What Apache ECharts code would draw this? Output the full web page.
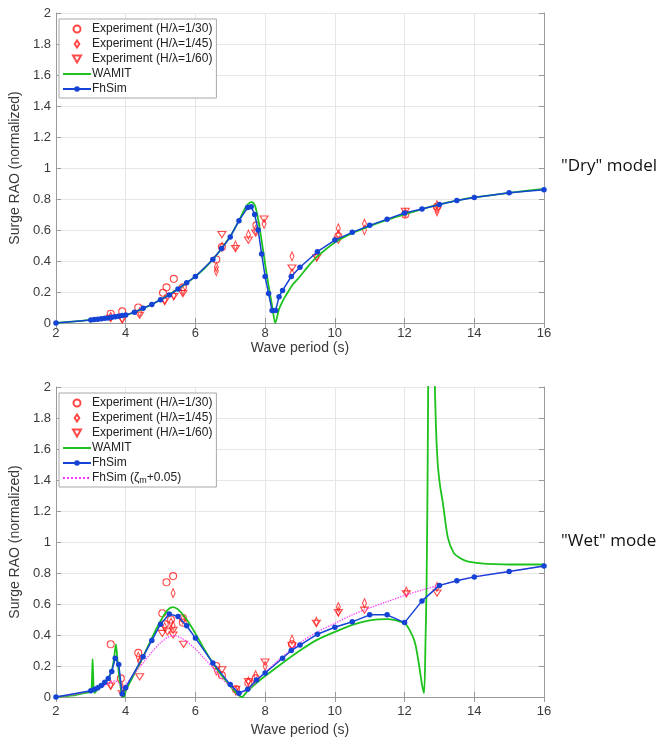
<!DOCTYPE html>
<html>
<head>
<meta charset="utf-8">
<script src="https://cdn.jsdelivr.net/npm/echarts@6/dist/echarts.min.js"></script>
<style>
html,body{margin:0;padding:0;background:#fff;}
#c{width:668px;height:742px;}
</style>
</head>
<body>
<div id="c"></div>
<script>
// ---------- Axis ticks ----------
const xTicks = [2, 4, 6, 8, 10, 12, 14, 16];
const yTicks = [0, 0.2, 0.4, 0.6, 0.8, 1, 1.2, 1.4, 1.6, 1.8, 2];

// ---------- Legend names ----------
const nameH30 = 'Experiment (H/λ=1/30)';
const nameH45 = 'Experiment (H/λ=1/45)';
const nameH60 = 'Experiment (H/λ=1/60)';
const nameWamit = 'WAMIT';
const nameFhSim = 'FhSim';
const nameFhSimZ = 'FhSim (ζm+0.05)';

// ---------- "Dry" model (top) ----------
const dryFhSimX = [2, 3.0, 3.1, 3.2, 3.3, 3.4, 3.5, 3.6, 3.7, 3.8, 3.9, 4.0, 4.25, 4.5, 4.75, 5.0, 5.25, 5.5, 5.75, 6.0, 6.5, 6.75, 7.0, 7.25, 7.5, 7.6, 7.7, 7.8, 7.9, 8.0, 8.1, 8.2, 8.3, 8.4, 8.5, 8.75, 9.0, 9.5, 10, 10.5, 11, 11.5, 12, 12.5, 13, 13.5, 14, 15, 16];
const dryFhSimY = [0, 0.02, 0.022, 0.024, 0.027, 0.03, 0.033, 0.037, 0.04, 0.044, 0.048, 0.052, 0.07, 0.095, 0.12, 0.15, 0.18, 0.22, 0.26, 0.30, 0.41, 0.48, 0.555, 0.66, 0.745, 0.75, 0.70, 0.60, 0.445, 0.30, 0.19, 0.08, 0.08, 0.17, 0.21, 0.30, 0.36, 0.46, 0.535, 0.585, 0.63, 0.67, 0.71, 0.735, 0.765, 0.79, 0.81, 0.84, 0.86];

const dryWamitX = [2, 3, 4, 5, 6, 6.5, 7.0, 7.25, 7.4, 7.5, 7.6, 7.66, 7.72, 7.8, 7.9, 8.0, 8.1, 8.2, 8.29, 8.4, 8.5, 8.6, 8.8, 9.0, 9.25, 9.5, 10, 10.5, 11, 11.5, 12, 12.5, 13, 13.5, 14, 15, 16];
const dryWamitY = [0, 0.02, 0.05, 0.15, 0.30, 0.41, 0.56, 0.66, 0.73, 0.765, 0.78, 0.775, 0.75, 0.67, 0.53, 0.38, 0.24, 0.11, 0.0, 0.09, 0.14, 0.18, 0.25, 0.30, 0.37, 0.43, 0.52, 0.58, 0.625, 0.665, 0.70, 0.735, 0.765, 0.79, 0.81, 0.84, 0.865];

const dryH30X = [3.57, 3.9, 4.36, 5.07, 5.17, 5.38, 5.64, 6.6, 6.76, 7.75, 10.1, 12.02, 12.93];
const dryH30Y = [0.06, 0.075, 0.10, 0.195, 0.23, 0.285, 0.23, 0.41, 0.49, 0.63, 0.56, 0.70, 0.75];
const dryH45X = [3.57, 3.9, 4.4, 5.12, 5.38, 5.64, 6.6, 6.6, 6.76, 7.15, 7.52, 7.73, 7.97, 8.77, 8.77, 9.48, 10.1, 10.1, 10.85, 10.85, 12.02, 12.93, 12.93];
const dryH45Y = [0.04, 0.03, 0.07, 0.15, 0.18, 0.21, 0.36, 0.335, 0.49, 0.50, 0.57, 0.60, 0.64, 0.43, 0.32, 0.43, 0.61, 0.57, 0.64, 0.60, 0.71, 0.76, 0.72];
const dryH60X = [3.57, 3.9, 4.4, 5.12, 5.38, 5.64, 6.76, 7.15, 7.52, 7.73, 7.97, 8.77, 9.48, 10.1, 12.02, 12.93];
const dryH60Y = [0.03, 0.02, 0.05, 0.14, 0.17, 0.19, 0.57, 0.48, 0.535, 0.58, 0.67, 0.355, 0.42, 0.535, 0.72, 0.73];

// ---------- "Wet" model (bottom) ----------
const wetFhSimX = [2, 3.0, 3.1, 3.2, 3.3, 3.4, 3.5, 3.6, 3.7, 3.8, 3.9, 4.0, 4.5, 4.75, 5.0, 5.25, 5.5, 5.75, 6.0, 6.5, 7.0, 7.25, 7.5, 7.75, 8.0, 8.5, 8.75, 9.0, 9.5, 10, 10.5, 11, 11.5, 12, 12.5, 13, 13.5, 14, 15, 16];
const wetFhSimY = [0, 0.04, 0.05, 0.06, 0.075, 0.095, 0.12, 0.165, 0.25, 0.21, 0.02, 0.06, 0.26, 0.365, 0.47, 0.535, 0.52, 0.46, 0.38, 0.22, 0.08, 0.025, 0.05, 0.11, 0.155, 0.25, 0.30, 0.335, 0.405, 0.45, 0.485, 0.53, 0.53, 0.48, 0.62, 0.72, 0.75, 0.775, 0.81, 0.845];

const wetWamitX = [2, 2.5, 2.8, 3.0, 3.03, 3.05, 3.07, 3.1, 3.2, 3.4, 3.5, 3.6, 3.66, 3.72, 3.76, 3.82, 3.9, 3.95, 4.0, 4.25, 4.5, 4.75, 5.0, 5.2, 5.35, 5.5, 5.75, 6.0, 6.25, 6.5, 6.75, 7.0, 7.2, 7.33, 7.5, 7.75, 8.0, 8.5, 9.0, 9.5, 10, 10.5, 11, 11.5, 12, 12.15, 12.3, 12.42, 12.5, 12.56, 12.6, 12.63, 12.66, 12.69, 12.75, 12.82, 12.86, 12.9, 12.95, 13.02, 13.1, 13.24, 13.41, 13.6, 13.8, 14.2, 14.6, 15, 16];
const wetWamitY = [0, 0.01, 0.025, 0.035, 0.10, 0.245, 0.12, 0.025, 0.05, 0.09, 0.12, 0.17, 0.24, 0.34, 0.25, 0.12, 0.01, 0.0, 0.04, 0.15, 0.26, 0.38, 0.49, 0.56, 0.58, 0.565, 0.50, 0.41, 0.31, 0.22, 0.14, 0.07, 0.02, 0.0, 0.04, 0.09, 0.135, 0.22, 0.30, 0.37, 0.42, 0.465, 0.495, 0.503, 0.475, 0.43, 0.35, 0.2, 0.08, 0.025, 0.35, 0.7, 1.4, 2.4, 3.5, 3.0, 2.1, 1.75, 1.51, 1.36, 1.25, 1.03, 0.93, 0.895, 0.875, 0.862, 0.857, 0.855, 0.855];

const wetFhSimZX = [2, 2.5, 3, 3.25, 3.5, 3.7, 3.8, 3.9, 4.0, 4.25, 4.5, 4.75, 5.0, 5.25, 5.4, 5.6, 5.8, 6.0, 6.25, 6.5, 6.75, 7.0, 7.2, 7.3, 7.5, 7.75, 8.0, 8.5, 9.0, 9.5, 10, 10.5, 11, 11.5, 12, 12.5, 13, 13.5, 14, 15, 16];
const wetFhSimZY = [0, 0.015, 0.04, 0.06, 0.085, 0.105, 0.09, 0.06, 0.08, 0.15, 0.22, 0.29, 0.35, 0.39, 0.395, 0.38, 0.35, 0.31, 0.25, 0.19, 0.12, 0.07, 0.035, 0.03, 0.05, 0.10, 0.16, 0.26, 0.35, 0.42, 0.475, 0.53, 0.575, 0.615, 0.655, 0.69, 0.72, 0.75, 0.775, 0.81, 0.845];

const wetH30X = [3.57, 3.86, 4.36, 5.05, 5.17, 5.36, 5.12, 5.3, 5.64, 5.64, 6.6, 6.76, 7.16, 7.52, 7.73, 8.77];
const wetH30Y = [0.34, 0.12, 0.285, 0.54, 0.74, 0.78, 0.47, 0.50, 0.51, 0.48, 0.20, 0.14, 0.05, 0.09, 0.12, 0.34];
const wetH45X = [3.57, 3.9, 3.9, 4.36, 4.4, 5.36, 5.12, 5.3, 5.36, 5.64, 6.6, 7.16, 7.52, 7.73, 8.0, 8.77, 9.47, 10.1, 10.1, 10.85, 12.05, 12.93];
const wetH45Y = [0.08, 0.06, 0.04, 0.26, 0.23, 0.67, 0.45, 0.48, 0.46, 0.50, 0.17, 0.04, 0.10, 0.14, 0.20, 0.37, 0.485, 0.58, 0.55, 0.605, 0.68, 0.71];
const wetH60X = [3.57, 3.9, 4.4, 5.05, 5.2, 5.36, 5.36, 5.66, 6.76, 7.16, 7.52, 8.0, 8.77, 9.47, 10.1, 10.85, 12.05, 12.93];
const wetH60Y = [0.07, 0.02, 0.13, 0.41, 0.42, 0.40, 0.43, 0.34, 0.175, 0.05, 0.10, 0.225, 0.33, 0.475, 0.545, 0.56, 0.665, 0.67];

// ---------- helpers ----------
function zip(xs, ys) { return xs.map((x, i) => [x, ys[i]]); }

const RED = '#ff1a1a', GREEN = '#1ec21e', BLUE = '#1443d6', MAG = '#ff33ff';
const AXIS = '#9a9a9a', GRIDC = '#e6e6e6', LABEL = '#3a3a3a';
const FONT = 'Liberation Sans, Arial, sans-serif';
const SYM_DIAMOND = 'path://M3,0 L6,4.5 L3,9 L0,4.5 Z';
const SYM_TRIDOWN = 'path://M0,0 L8,0 L4,7 Z';

function xAxes(gi) {
  return [{
    type: 'value', gridIndex: gi, min: 2, max: 16, interval: 2, position: 'bottom',
    name: 'Wave period (s)', nameLocation: 'middle', nameGap: gi === 0 ? 18 : 26,
    nameTextStyle: { fontSize: 14, color: LABEL, fontFamily: FONT },
    axisLine: { show: true, lineStyle: { color: AXIS, width: 1 } },
    axisTick: { show: true, inside: true, length: 5, lineStyle: { color: AXIS } },
    axisLabel: { fontSize: 13, color: LABEL, fontFamily: FONT, margin: gi === 0 ? 4 : 8 },
    splitLine: { show: true, lineStyle: { color: GRIDC, width: 1 } }
  }, {
    type: 'value', gridIndex: gi, min: 2, max: 16, interval: 2, position: 'top',
    axisLine: { show: true, lineStyle: { color: AXIS, width: 1 } },
    axisTick: { show: true, inside: true, length: 5, lineStyle: { color: AXIS } },
    axisLabel: { show: false }, splitLine: { show: false }
  }];
}
function yAxes(gi) {
  return [{
    type: 'value', gridIndex: gi, min: 0, max: 2, interval: 0.2, position: 'left',
    name: 'Surge RAO (normalized)', nameLocation: 'middle', nameGap: 27, nameRotate: 90,
    nameTextStyle: { fontSize: 14, color: LABEL, fontFamily: FONT },
    axisLine: { show: true, lineStyle: { color: AXIS, width: 1 } },
    axisTick: { show: true, inside: true, length: 5, lineStyle: { color: AXIS } },
    axisLabel: { fontSize: 13, color: LABEL, fontFamily: FONT, margin: 5 },
    splitLine: { show: true, lineStyle: { color: GRIDC, width: 1 } }
  }, {
    type: 'value', gridIndex: gi, min: 0, max: 2, interval: 0.2, position: 'right',
    axisLine: { show: true, lineStyle: { color: AXIS, width: 1 } },
    axisTick: { show: true, inside: true, length: 5, lineStyle: { color: AXIS } },
    axisLabel: { show: false }, splitLine: { show: false }
  }];
}

function expSeries(name, xi, yi, xs, ys, symbol, size) {
  return {
    name: name, type: 'scatter', xAxisIndex: xi, yAxisIndex: yi,
    data: zip(xs, ys), symbol: symbol, symbolSize: size, symbolKeepAspect: true,
    itemStyle: { color: 'rgba(255,255,255,0)', borderColor: RED, borderWidth: 1.1 },
    z: 2
  };
}
function wamit(xi, yi, xs, ys) {
  return {
    name: nameWamit, type: 'line', xAxisIndex: xi, yAxisIndex: yi,
    data: zip(xs, ys), showSymbol: false, symbol: 'none', smooth: 0.25,
    lineStyle: { color: GREEN, width: 1.8 }, itemStyle: { color: GREEN }, z: 3, clip: true
  };
}
function fhsim(xi, yi, xs, ys) {
  return {
    name: nameFhSim, type: 'line', xAxisIndex: xi, yAxisIndex: yi,
    data: zip(xs, ys), symbol: 'circle', symbolSize: 5.5, showSymbol: true,
    lineStyle: { color: BLUE, width: 1.5 }, itemStyle: { color: BLUE }, z: 5
  };
}

const legendCommon = {
  orient: 'vertical', left: 59, itemWidth: 28, itemHeight: 7, itemGap: 1,
  padding: [3, 4, 2, 3], borderColor: '#a8a8a8', borderWidth: 1, backgroundColor: '#fff',
  align: 'left', symbolKeepAspect: true,
  textStyle: {
    fontSize: 12, lineHeight: 14, color: '#222', fontFamily: FONT, padding: [0, 0, 0, -4],
    rich: {
      a: { fontSize: 12, lineHeight: 14, color: '#222', fontFamily: FONT },
      s: { fontSize: 9, lineHeight: 6, verticalAlign: 'bottom', color: '#222', fontFamily: FONT }
    }
  },
  formatter: function (n) {
    if (n === nameFhSimZ) return '{a|FhSim (ζ}{s|m}{a|+0.05)}';
    return n;
  }
};
function legendData(withZ) {
  const d = [
    { name: nameH30, icon: 'circle' },
    { name: nameH45, icon: SYM_DIAMOND },
    { name: nameH60, icon: SYM_TRIDOWN },
    { name: nameWamit, itemStyle: { opacity: 0 } },
    { name: nameFhSim }
  ];
  if (withZ) d.push({ name: nameFhSimZ, itemStyle: { opacity: 0 } });
  return d;
}

const option = {
  animation: false,
  backgroundColor: '#fff',
  grid: [
    { left: 52, top: 13, width: 492, height: 310, containLabel: false },
    { left: 52, top: 387, width: 492, height: 310, containLabel: false }
  ],
  xAxis: [...xAxes(0), ...xAxes(1)],
  yAxis: [...yAxes(0), ...yAxes(1)],
  legend: [
    Object.assign({}, legendCommon, { top: 19, data: legendData(false) }),
    Object.assign({}, legendCommon, { top: 393, data: legendData(true) })
  ],
  graphic: [
    { type: 'text', left: 561, top: 158, style: { text: '"Dry" model', fontSize: 17, fill: '#111', fontFamily: 'Open Sans, Noto Sans, sans-serif' } },
    { type: 'text', left: 561, top: 533, style: { text: '"Wet" mode', fontSize: 17, fill: '#111', fontFamily: 'Open Sans, Noto Sans, sans-serif' } }
  ],
  series: [
    expSeries(nameH30, 0, 0, dryH30X, dryH30Y, 'circle', 7),
    expSeries(nameH45, 0, 0, dryH45X, dryH45Y, SYM_DIAMOND, [6, 9]),
    expSeries(nameH60, 0, 0, dryH60X, dryH60Y, SYM_TRIDOWN, [8, 7]),
    wamit(0, 0, dryWamitX, dryWamitY),
    fhsim(0, 0, dryFhSimX, dryFhSimY),
    expSeries(nameH30, 2, 2, wetH30X, wetH30Y, 'circle', 7),
    expSeries(nameH45, 2, 2, wetH45X, wetH45Y, SYM_DIAMOND, [6, 9]),
    expSeries(nameH60, 2, 2, wetH60X, wetH60Y, SYM_TRIDOWN, [8, 7]),
    wamit(2, 2, wetWamitX, wetWamitY),
    fhsim(2, 2, wetFhSimX, wetFhSimY),
    {
      name: nameFhSimZ, type: 'line', xAxisIndex: 2, yAxisIndex: 2,
      data: zip(wetFhSimZX, wetFhSimZY), showSymbol: false, symbol: 'none', smooth: 0.3,
      lineStyle: { color: MAG, width: 1.3, type: 'dotted' }, itemStyle: { color: MAG }, z: 4
    }
  ]
};

const chart = echarts.init(document.getElementById('c'), null, { renderer: 'canvas' });
chart.setOption(option);
</script>
</body>
</html>
